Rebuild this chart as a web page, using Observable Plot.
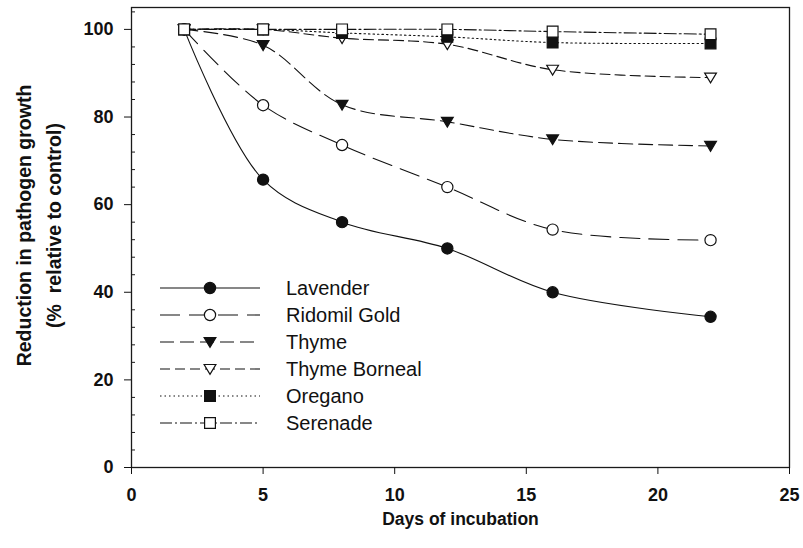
<!DOCTYPE html>
<html><head><meta charset="utf-8">
<script src="https://cdn.jsdelivr.net/npm/d3@7"></script>
<script src="https://cdn.jsdelivr.net/npm/@observablehq/plot@0.6"></script>
<style>
body{margin:0;background:#fff;}
#wrap{position:relative;width:803px;height:548px;font-family:"Liberation Sans",Arial,sans-serif;}
#legend{position:absolute;left:0;top:0;pointer-events:none;}
</style></head><body><div id="wrap"></div>
<script>
const days = [2, 5, 8, 12, 16, 22];
const seriesNames = ["Lavender", "Ridomil Gold", "Thyme", "Thyme Borneal", "Oregano", "Serenade"];
const lavender = [100, 65.7, 56, 50, 40, 34.4];
const ridomilGold = [100, 82.7, 73.6, 64, 54.3, 51.9];
const thyme = [100, 96.4, 82.8, 78.9, 74.9, 73.4];
const thymeBorneal = [100, 100, 98, 96.6, 90.8, 89];
const oregano = [100, 100, 99.2, 98.3, 97, 96.8];
const serenade = [100, 100, 100, 100, 99.5, 98.9];
const xTicks = [0, 5, 10, 15, 20, 25];
const yTicks = [0, 20, 40, 60, 80, 100];
const yMinorTicks = [4, 8, 12, 16, 24, 28, 32, 36, 44, 48, 52, 56, 64, 68, 72, 76, 84, 88, 92, 96, 104];
const xLabel = "Days of incubation";
const yLabel = "Reduction in pathogen growth\n(%\u00a0 relative to control)";

const valuesBySeries = [lavender, ridomilGold, thyme, thymeBorneal, oregano, serenade];

const triangleDown = {
  draw(ctx, size) {
    const r = Math.sqrt(size / Math.PI);
    const w = r * 1.05, t = r * 0.8, b = r * 0.95;
    ctx.moveTo(-w, -t); ctx.lineTo(w, -t); ctx.lineTo(0, b); ctx.closePath();
  }
};
const squareSym = {
  draw(ctx, size) {
    const r = Math.sqrt(size / Math.PI);
    ctx.rect(-r, -r, 2 * r, 2 * r);
  }
};
const styles = [
  {dash: null, symbol: "circle", fill: "#111", r: 5.6},
  {dash: "20,9", symbol: "circle", fill: "#fff", r: 5.6},
  {dash: "14,6", symbol: triangleDown, fill: "#111", r: 5.6},
  {dash: "10,5", symbol: triangleDown, fill: "#fff", r: 5.6},
  {dash: "1.5,3", symbol: squareSym, fill: "#111", r: 5.4},
  {dash: "12,3,2,3", symbol: squareSym, fill: "#fff", r: 5.4}
];

const rows = [];
seriesNames.forEach((name, i) => days.forEach((d, j) => rows.push({series: name, idx: i, day: d, value: valuesBySeries[i][j]})));

const marks = [];
marks.push(Plot.frame({stroke: "#1a1a1a", strokeWidth: 1.3}));
marks.push(Plot.tickY(yMinorTicks, {y: d => d, insetRight: 654, stroke: "#1a1a1a"}));
marks.push(Plot.axisX(xTicks, {tickSize: 7, tickPadding: 14, fontWeight: "bold", label: null}));
marks.push(Plot.axisY(yTicks, {tickSize: 7, tickPadding: 11, fontWeight: "bold", label: null}));
seriesNames.forEach((name, i) => {
  const data = rows.filter(r => r.idx === i);
  marks.push(Plot.line(data, {x: "day", y: "value", curve: "catmull-rom", stroke: "#111", strokeWidth: 1.1, strokeDasharray: styles[i].dash || undefined}));
});
seriesNames.forEach((name, i) => {
  const data = rows.filter(r => r.idx === i);
  marks.push(Plot.dot(data, {x: "day", y: "value", symbol: () => styles[i].symbol, r: styles[i].r, fill: styles[i].fill, stroke: "#111", strokeWidth: 1.2}));
});
marks.push(Plot.text([yLabel], {text: d => d, frameAnchor: "left", textAnchor: "middle", lineAnchor: "middle", rotate: -90, dx: -95, dy: -12, fontWeight: "bold", fontSize: 19.5, lineHeight: 1.55}));
marks.push(Plot.text([xLabel], {text: d => d, frameAnchor: "bottom", dy: 57, fontWeight: "bold", fontSize: 17.5}));

const chart = Plot.plot({
  width: 803, height: 548,
  marginLeft: 131, marginRight: 14, marginTop: 7, marginBottom: 81,
  style: {fontFamily: '"Liberation Sans", Arial, sans-serif', fontSize: "18px", color: "#111", background: "#fff"},
  x: {domain: [0, 25]},
  y: {domain: [0, 105]},
  symbol: {type: "identity"},
  marks
});
const wrap = document.getElementById("wrap");
wrap.appendChild(chart);

// legend overlay
const legendRows = [288, 315, 342, 369, 396, 423];
const svg = d3.select(wrap).append("svg").attr("id", "legend").attr("width", 803).attr("height", 548);
seriesNames.forEach((name, i) => {
  const g = svg.append("g").attr("transform", `translate(0,${legendRows[i]})`);
  g.append("line").attr("x1", 160).attr("x2", 260).attr("y1", 0).attr("y2", 0)
    .attr("stroke", "#111").attr("stroke-width", 1.1).attr("stroke-dasharray", styles[i].dash);
  const sym = styles[i].symbol;
  const sizeVal = Math.PI * styles[i].r * styles[i].r;
  const path = d3.path();
  if (sym === "circle") path.arc(0, 0, styles[i].r, 0, 2 * Math.PI);
  else sym.draw(path, sizeVal);
  g.append("path").attr("d", path.toString()).attr("transform", "translate(210,0)")
    .attr("fill", styles[i].fill).attr("stroke", "#111").attr("stroke-width", 1.2);
  g.append("text").attr("x", 286).attr("y", 0).attr("dy", "0.35em").attr("font-size", 20)
    .attr("font-family", '"Liberation Sans", Arial, sans-serif').attr("fill", "#111").text(name);
});
</script></body></html>
